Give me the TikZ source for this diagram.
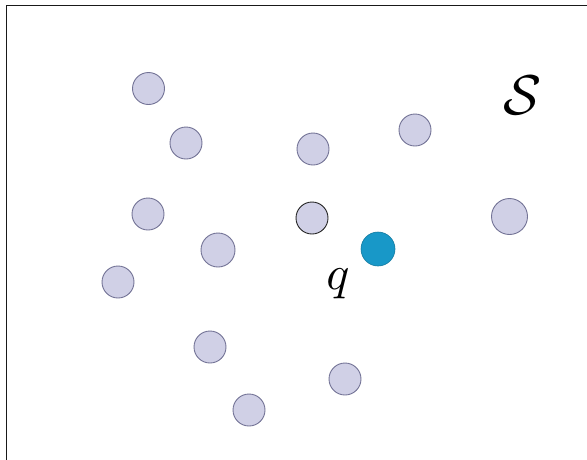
\documentclass[tikz,border=0pt]{standalone}
\definecolor{ptfill}{RGB}{208,208,230}
\definecolor{ptline}{RGB}{115,115,150}
\definecolor{qblue}{RGB}{24,152,200}
\begin{document}
\begin{tikzpicture}[x=1pt,y=-1pt,
  pt/.style={circle,fill=ptfill,draw=ptline,line width=0.9pt,minimum size=32pt,inner sep=0pt},
  qpt/.style={circle,fill=qblue,draw=qblue!80!black,line width=0.6pt,minimum size=34pt,inner sep=0pt}]
\useasboundingbox (0,0) rectangle (587,459);
\fill[white] (0,0) rectangle (587,459);
\draw[line width=1.3pt,black!90] (6.5,462) -- (6.5,5.5) -- (590,5.5);
\node[pt] (p1) at (148.5,88.5) {};
\node[pt] (p2) at (186,143) {};
\node[pt] (p3) at (313,149) {};
\node[pt] (p4) at (415,130) {};
\node[pt] (p5) at (148,214) {};
\node[pt,draw=black!85] (p6) at (312,218) {};
\node[pt,minimum size=36pt] (p7) at (509.5,216.5) {};
\node[pt,minimum size=34pt] (p8) at (218,250) {};
\node[pt] (p9) at (118,282) {};
\node[qpt] (q) at (378,249) {};
\node[pt] (p11) at (210,347) {};
\node[pt] (p12) at (345,379) {};
\node[pt] (p13) at (249,410) {};
\node[scale=4.8,inner sep=0pt] (ql) at (338,284) {$q$};
\node[scale=5.6,inner sep=0pt] (S) at (523,95) {$\mathcal{S}$};
\end{tikzpicture}
\end{document}
